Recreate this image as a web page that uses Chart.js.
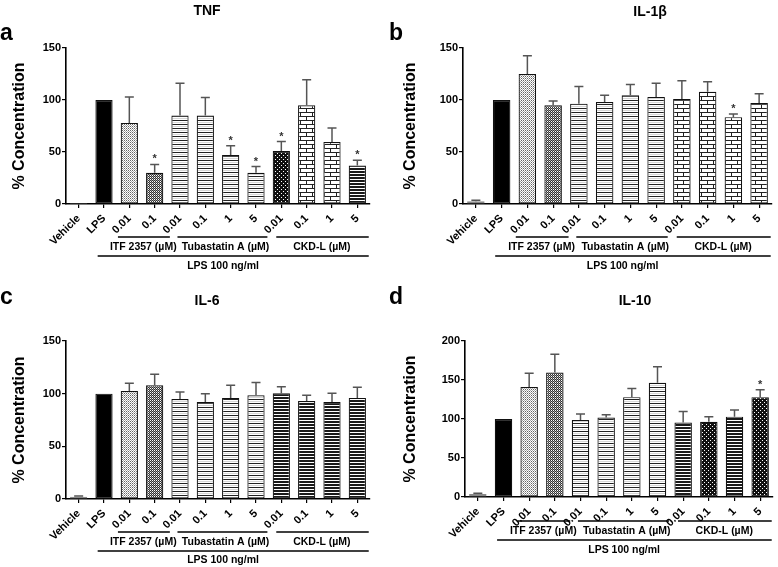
<!DOCTYPE html>
<html><head><meta charset="utf-8">
<script src="https://cdn.jsdelivr.net/npm/chart.js@4.4.1/dist/chart.umd.min.js"></script>
<style>
html,body{margin:0;padding:0;background:#fff;}
#wrap{position:relative;width:778px;height:567px;overflow:hidden;background:#fff;}
#wrap canvas{position:absolute;}
</style></head><body>
<div id="wrap">
<canvas id="cA" width="389" height="283" style="left:0;top:0"></canvas>
<canvas id="cB" width="389" height="283" style="left:389px;top:0"></canvas>
<canvas id="cC" width="389" height="284" style="left:0;top:283px"></canvas>
<canvas id="cD" width="389" height="284" style="left:389px;top:283px"></canvas>
</div>
<script>
// ---------- data ----------
const categories = ['Vehicle','LPS','0.01','0.1','0.01','0.1','1','5','0.01','0.1','1','5'];
const groupLabels = ['ITF 2357 (µM)','Tubastatin A (µM)','CKD-L (µM)'];
const lpsLabel = 'LPS 100 ng/ml';
const yTicks150 = [0,50,100,150];
const yTicks200 = [0,50,100,150,200];

const tnfMean = [1,100,78,30,85,85,47,30,51,95,59.5,37];
const tnfSem  = [0,0,25,8,31,17.5,9,6,9,24.5,13.5,5];
const tnfSig  = [0,0,0,1,0,0,1,1,1,0,0,1];

const il1bMean = [2.6,100,125,95,96.5,98,104.5,103,101,108,83.5,97];
const il1bSem  = [0.9,0,17.5,4,16.5,6.5,10.5,13,17.5,9.5,3,9];
const il1bSig  = [0,0,0,0,0,0,0,0,0,0,1,0];

const il6Mean = [2.2,100,102.5,108,95,92,96,98.5,100.5,93,92,96];
const il6Sem  = [0.6,0,7.5,10.5,6.5,8,12,12,6,5.5,8.5,10];
const il6Sig  = [0,0,0,0,0,0,0,0,0,0,0,0];

const il10Mean = [3.8,100,141,159.5,98.7,102,128,146.5,95.5,96.5,103,128];
const il10Sem  = [0.9,0,17.5,23.5,7.8,3.5,11,20.5,14,6.5,8.5,9.5];
const il10Sig  = [0,0,0,0,0,0,0,0,0,0,0,1];

// ---------- styles ----------
const FONT = "'Liberation Sans', Arial, sans-serif";
Chart.defaults.font.family = FONT;
Chart.defaults.color = '#000';

function pat(w,h,draw){
  const c=document.createElement('canvas'); c.width=w; c.height=h;
  const g=c.getContext('2d'); g.fillStyle='#fff'; g.fillRect(0,0,w,h); draw(g);
  return g.createPattern(c,'repeat');
}
const P = {
  white: '#ffffff',
  black: '#000000',
  dotsLight: pat(2,2,g=>{g.fillStyle='#666';g.fillRect(0,0,1,1);g.fillStyle='#aaa';g.fillRect(1,1,1,1);}),
  dotsDark: pat(2,2,g=>{g.fillStyle='#333';g.fillRect(0,0,1,1);g.fillRect(1,1,1,1);g.fillStyle='#999';g.fillRect(1,0,1,1);}),
  hlines: pat(1,4,g=>{g.fillStyle='#222';g.fillRect(0,0,1,1);g.fillStyle='#bbb';g.fillRect(0,2,1,0.6);}),
  brick: pat(12,8,g=>{g.fillStyle='#222';g.fillRect(0,0,12,1);g.fillRect(0,4,12,1);g.fillRect(0,0,1,4);g.fillRect(6,4,1,4);}),
  darkDots: pat(4,4,g=>{g.fillStyle='#111';g.fillRect(0,0,4,4);g.fillStyle='#fff';g.fillRect(1,1,1,1);g.fillRect(3,3,1,1);}),
  dense: pat(1,3,g=>{g.fillStyle='#1a1a1a';g.fillRect(0,0,1,2);})
};

function build(id, o){
  const fills = o.fills.map(k=>P[k]);
  const borders = o.fills.map((k,i)=> i===0 ? '#888' : '#111');
  const deco = {
    id:'deco'+id,
    afterDatasetsDraw(chart){
      const {ctx, scales:{x,y}} = chart;
      ctx.save();
      ctx.strokeStyle='#555'; ctx.lineWidth=1.5; ctx.lineCap='butt';
      o.mean.forEach((m,i)=>{
        const s=o.sem[i]; if(!(s>0)) return;
        const cx=x.getPixelForValue(i), y0=y.getPixelForValue(m), y1=y.getPixelForValue(m+s);
        ctx.beginPath(); ctx.moveTo(cx,y0); ctx.lineTo(cx,y1);
        ctx.moveTo(cx-4.5,y1); ctx.lineTo(cx+4.5,y1); ctx.stroke();
      });
      ctx.fillStyle='#333'; ctx.font='bold 11px '+FONT; ctx.textAlign='center'; ctx.textBaseline='alphabetic';
      o.mean.forEach((m,i)=>{
        if(!o.sig[i]) return;
        const cx=x.getPixelForValue(i), y1=y.getPixelForValue(m+o.sem[i]);
        ctx.fillText('*', cx, y1-2);
      });
      ctx.restore();
    },
    afterDraw(chart){
      const {ctx, scales:{x}, chartArea} = chart;
      const b = chartArea.bottom;
      ctx.save();
      ctx.fillStyle='#000';
      ctx.textAlign='left'; ctx.textBaseline='alphabetic';
      ctx.font='bold 23px '+FONT; ctx.fillText(o.letter, o.letterPos[0], o.letterPos[1]);
      ctx.textAlign='center';
      ctx.font='bold 14px '+FONT; ctx.fillText(o.title, o.titlePos[0], o.titlePos[1]);
      // group brackets
      ctx.strokeStyle='#000'; ctx.lineWidth=1.5;
      const spans = [[1.55,3.6,2.55],[3.9,7.45,5.8],[7.8,11.45,9.6]];
      ctx.font='bold 10.5px '+FONT; ctx.textBaseline='middle';
      spans.forEach((s,k)=>{
        const yL=b+o.g[0];
        ctx.beginPath(); ctx.moveTo(x.getPixelForValue(s[0]),yL); ctx.lineTo(x.getPixelForValue(s[1]),yL); ctx.stroke();
        ctx.fillText(groupLabels[k], x.getPixelForValue(s[2]), b+o.g[1]);
      });
      const yL2=b+o.g[2];
      ctx.beginPath(); ctx.moveTo(x.getPixelForValue(0.75),yL2); ctx.lineTo(x.getPixelForValue(11.45),yL2); ctx.stroke();
      ctx.fillText(lpsLabel, x.getPixelForValue(5.7), b+o.g[3]);
      ctx.restore();
    }
  };
  return new Chart(document.getElementById(id), {
    type:'bar',
    data:{labels:categories, datasets:[{data:o.mean, backgroundColor:fills, borderColor:borders, borderWidth:1.2, borderSkipped:false, barPercentage:0.68, categoryPercentage:1}]},
    options:{
      responsive:false, animation:false, devicePixelRatio:1,
      layout:{padding:{left:o.pad[0], right:o.pad[1], top:o.pad[2], bottom:0}},
      plugins:{legend:{display:false}, tooltip:{enabled:false}, title:{display:false}},
      scales:{
        x:{offset:true,
           grid:{display:true, drawOnChartArea:false, drawTicks:true, tickLength:4, offset:false, color:'#000', lineWidth:1.2},
           border:{display:true, color:'#000', width:1.6},
           ticks:{autoSkip:false, minRotation:45, maxRotation:45, color:'#000', font:{size:11, weight:'bold'}, padding:4},
           afterFit:s=>{s.height=o.xH;}},
        y:{min:0, max:o.yTicks[o.yTicks.length-1],
           afterBuildTicks:s=>{s.ticks=o.yTicks.map(v=>({value:v}));},
           grid:{drawOnChartArea:false, drawTicks:true, tickLength:4, color:'#000', lineWidth:1.2},
           border:{display:true, color:'#000', width:1.6},
           ticks:{color:'#000', font:{size:11, weight:'bold'}, padding:1},
           title:{display:true, text:'% Concentration', color:'#000', font:{size:16, weight:'bold'}, padding:{top:4, bottom:0}},
           afterFit:s=>{s.width=o.yW;}}
      }
    },
    plugins:[deco]
  });
}

build('cA',{mean:tnfMean, sem:tnfSem, sig:tnfSig, yTicks:yTicks150, title:'TNF', letter:'a',
  fills:['white','black','dotsLight','dotsDark','hlines','hlines','hlines','hlines','darkDots','brick','brick','dense'],
  pad:[6,19,48], yW:60, xH:79, titlePos:[207,15], letterPos:[0,40], g:[33,43,52,62]});
build('cB',{mean:il1bMean, sem:il1bSem, sig:il1bSig, yTicks:yTicks150, title:'IL-1β', letter:'b',
  fills:['white','black','dotsLight','dotsDark','hlines','hlines','hlines','hlines','brick','brick','brick','brick'],
  pad:[8,6,48], yW:66, xH:79, titlePos:[261,16], letterPos:[0,40], g:[33,43,52,62]});
build('cC',{mean:il6Mean, sem:il6Sem, sig:il6Sig, yTicks:yTicks150, title:'IL-6', letter:'c',
  fills:['white','black','dotsLight','dotsDark','hlines','hlines','hlines','hlines','dense','dense','dense','dense'],
  pad:[6,19,58], yW:60, xH:68, titlePos:[207,22], letterPos:[0,21], g:[33,43,52,61]});
build('cD',{mean:il10Mean, sem:il10Sem, sig:il10Sig, yTicks:yTicks200, title:'IL-10', letter:'d',
  fills:['white','black','dotsLight','dotsDark','hlines','hlines','hlines','hlines','dense','darkDots','dense','darkDots'],
  pad:[8,5,58], yW:68, xH:70, titlePos:[246,22], letterPos:[0,21], g:[24,34,43,53]});
</script>
</body></html>
